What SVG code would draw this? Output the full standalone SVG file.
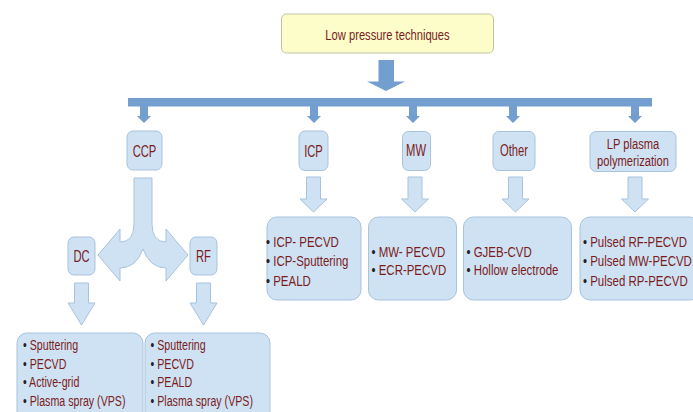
<svg xmlns="http://www.w3.org/2000/svg" xmlns:xlink="http://www.w3.org/1999/xlink" width="693" height="412" viewBox="0 0 693 412">
<style>
  .box{fill:#cfe2f3;stroke:#a7c3df;stroke-width:1}
  .title{fill:#fdfdc9;stroke:#c4c4a4;stroke-width:1}
  .t{font-family:"Liberation Sans",Arial,sans-serif;fill:#7a1c1c}
  .lbl{font-size:17px;text-anchor:middle}
  .lbl2{font-size:14.5px;text-anchor:middle}
  .ttl{font-size:14px;text-anchor:middle}
  .li{font-size:15.5px}
  .lb{font-size:15px}
  .b{fill:#222}
  .fat{fill:#cfe2f3;stroke:#a7c3df;stroke-width:1}
  .blue{fill:#729fcf}
</style>
<defs>
  <path id="sa" d="M-4,0 H4 V10 H7 L0,17 L-7,10 H-4 Z"/>
  <path id="fa" d="M-7,0 H7 V22 H13.5 L0,35 L-13.5,22 H-7 Z"/>
  <path id="fb" d="M-7,0 H7 V20 H13.5 L0,42 L-13.5,20 H-7 Z"/>
</defs>
<rect width="693" height="412" fill="#ffffff"/>

<g id="connectors">
  <path class="blue" d="M378.5,60 H394 V81.5 H405 L386,91 L367,81.5 H378.5 Z"/>
  <rect class="blue" x="128" y="98" width="524" height="8.5"/>
  <use xlink:href="#sa" class="blue" x="144" y="106"/>
  <use xlink:href="#sa" class="blue" x="314" y="106"/>
  <use xlink:href="#sa" class="blue" x="413" y="106"/>
  <use xlink:href="#sa" class="blue" x="513" y="106"/>
  <use xlink:href="#sa" class="blue" x="635" y="106"/>
  <use xlink:href="#fa" class="fat" x="313.5" y="177"/>
  <use xlink:href="#fa" class="fat" x="415" y="177"/>
  <use xlink:href="#fa" class="fat" x="515.5" y="177"/>
  <use xlink:href="#fa" class="fat" x="635" y="177"/>
  <use xlink:href="#fb" class="fat" x="81.5" y="283"/>
  <use xlink:href="#fb" class="fat" x="203.5" y="283"/>
  <path class="fat" d="M134,178 L134,224 Q134,242 120,242 L120,229 L98,255 L120,281 L120,268 Q136,268 143,249 Q150,268 166,268 L166,281 L188,255 L166,229 L166,242 Q152,242 152,224 L152,178 Z"/>
</g>

<g id="n-title">
  <rect class="title" x="281.5" y="14" width="212" height="39" rx="5"/>
  <text class="t ttl" transform="translate(387.5 39.5) scale(0.8 1)">Low pressure techniques</text>
</g>
<g id="n-ccp">
  <rect class="box" x="127" y="131" width="35" height="39" rx="6"/>
  <text class="t lbl" transform="translate(144.5 156.5) scale(0.66 1)">CCP</text>
</g>
<g id="n-icp">
  <rect class="box" x="299" y="131" width="29" height="39.5" rx="6"/>
  <text class="t lbl" transform="translate(313.5 157) scale(0.66 1)">ICP</text>
</g>
<g id="n-mw">
  <rect class="box" x="402.5" y="131.5" width="28" height="39" rx="6"/>
  <text class="t lbl" transform="translate(416 156) scale(0.66 1)">MW</text>
</g>
<g id="n-other">
  <rect class="box" x="493" y="131.5" width="42" height="39" rx="6"/>
  <text class="t lbl" transform="translate(514 156) scale(0.66 1)">Other</text>
</g>
<g id="n-lp">
  <rect class="box" x="590" y="131.5" width="86" height="40" rx="6"/>
  <text class="t lbl2" transform="translate(633 149) scale(0.77 1)">LP plasma</text>
  <text class="t lbl2" transform="translate(633 166) scale(0.77 1)">polymerization</text>
</g>
<g id="n-dc">
  <rect class="box" x="68" y="237" width="27" height="38" rx="6"/>
  <text class="t lbl" transform="translate(81.5 262) scale(0.66 1)">DC</text>
</g>
<g id="n-rf">
  <rect class="box" x="190" y="237" width="27" height="38" rx="6"/>
  <text class="t lbl" transform="translate(203.5 262) scale(0.66 1)">RF</text>
</g>

<g id="n-icp-list">
  <rect class="box" x="267" y="217" width="94" height="83" rx="10"/>
  <text class="t li" transform="translate(266 246.5) scale(0.74 1)"><tspan class="b">•</tspan> ICP- PECVD</text>
  <text class="t li" transform="translate(266 266) scale(0.74 1)"><tspan class="b">•</tspan> ICP-Sputtering</text>
  <text class="t li" transform="translate(266 285.5) scale(0.74 1)"><tspan class="b">•</tspan> PEALD</text>
</g>
<g id="n-mw-list">
  <rect class="box" x="368.5" y="217" width="88" height="83" rx="10"/>
  <text class="t li" transform="translate(371.5 256.5) scale(0.74 1)"><tspan class="b">•</tspan> MW- PECVD</text>
  <text class="t li" transform="translate(371.5 275) scale(0.74 1)"><tspan class="b">•</tspan> ECR-PECVD</text>
</g>
<g id="n-other-list">
  <rect class="box" x="463.5" y="217" width="108" height="83" rx="10"/>
  <text class="t li" transform="translate(466.5 256.5) scale(0.74 1)"><tspan class="b">•</tspan> GJEB-CVD</text>
  <text class="t li" transform="translate(466.5 275) scale(0.74 1)"><tspan class="b">•</tspan> Hollow electrode</text>
</g>
<g id="n-lp-list">
  <rect class="box" x="580" y="217" width="120" height="83" rx="10"/>
  <text class="t li" transform="translate(583 246.5) scale(0.74 1)"><tspan class="b">•</tspan> Pulsed RF-PECVD</text>
  <text class="t li" transform="translate(583 266) scale(0.74 1)"><tspan class="b">•</tspan> Pulsed MW-PECVD</text>
  <text class="t li" transform="translate(583 285.5) scale(0.74 1)"><tspan class="b">•</tspan> Pulsed RP-PECVD</text>
</g>
<g id="n-dc-list">
  <rect class="box" x="17" y="333" width="126" height="90" rx="10"/>
  <text class="t lb" transform="translate(23 350) scale(0.71 1)"><tspan class="b">•</tspan> Sputtering</text>
  <text class="t lb" transform="translate(23 368.5) scale(0.71 1)"><tspan class="b">•</tspan> PECVD</text>
  <text class="t lb" transform="translate(23 387) scale(0.71 1)"><tspan class="b">•</tspan> Active-grid</text>
  <text class="t lb" transform="translate(23 405.5) scale(0.71 1)"><tspan class="b">•</tspan> Plasma spray (VPS)</text>
</g>
<g id="n-rf-list">
  <rect class="box" x="145" y="333" width="125" height="90" rx="10"/>
  <text class="t lb" transform="translate(150.5 350) scale(0.71 1)"><tspan class="b">•</tspan> Sputtering</text>
  <text class="t lb" transform="translate(150.5 368.5) scale(0.71 1)"><tspan class="b">•</tspan> PECVD</text>
  <text class="t lb" transform="translate(150.5 387) scale(0.71 1)"><tspan class="b">•</tspan> PEALD</text>
  <text class="t lb" transform="translate(150.5 405.5) scale(0.71 1)"><tspan class="b">•</tspan> Plasma spray (VPS)</text>
</g>
</svg>
